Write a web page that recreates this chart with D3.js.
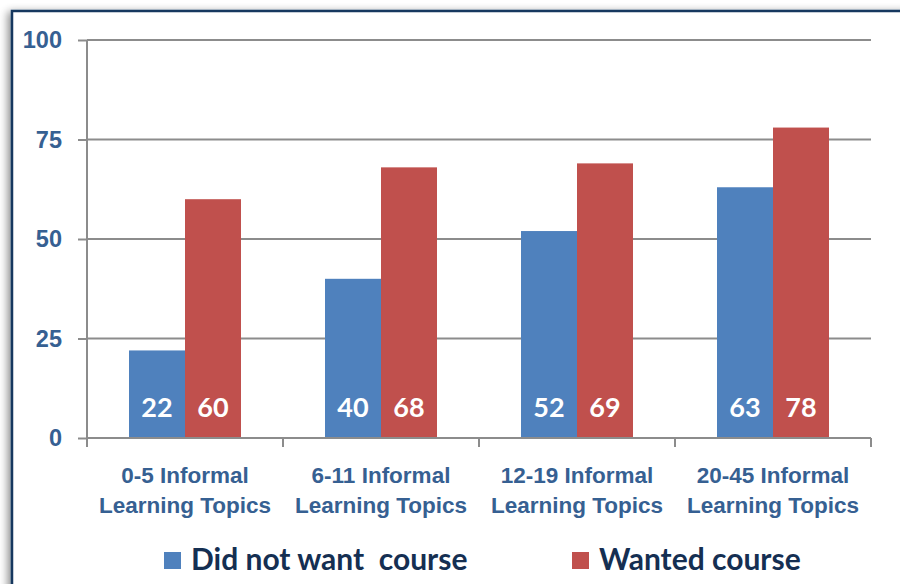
<!DOCTYPE html>
<html>
<head>
<meta charset="utf-8">
<script src="https://cdn.jsdelivr.net/npm/d3@7"></script>
<style>
	body { margin: 0; background: #fff; }
	svg { display: block; font-family: Lato, "Open Sans", sans-serif; }
	.y.axis text { fill: #366092; font-size: 23.5px; font-weight: bold; }
	.x.axis text { fill: #366092; font-size: 22.5px; font-weight: bold; }
	.value { fill: #fff; font-size: 27px; font-weight: bold; }
	.legend text { fill: #152F52; font-size: 30px; font-weight: bold; }
</style>
</head>
<body>
<div id="chart"></div>
<script>
// data
var categories = ["0-5 Informal Learning Topics", "6-11 Informal Learning Topics", "12-19 Informal Learning Topics", "20-45 Informal Learning Topics"];
var didNotWant = [22, 40, 52, 63];
var wanted = [60, 68, 69, 78];
var seriesNames = ["Did not want  course", "Wanted course"];
var yTicks = [0, 25, 50, 75, 100];

var colors = ["#4F81BD", "#C0504D"];

var W = 900, H = 584;
var margin = { top: 40, left: 87, right: 29, bottom: 146 };
var width = W - margin.left - margin.right;
var height = H - margin.top - margin.bottom;

var svg = d3.select("#chart").append("svg")
	.attr("width", W)
	.attr("height", H);

// frame with a soft shadow on the left
var defs = svg.append("defs");
var f = defs.append("filter").attr("id", "shadow").attr("x", "-10%").attr("y", "-10%").attr("width", "120%").attr("height", "120%");
f.append("feGaussianBlur").attr("in", "SourceAlpha").attr("stdDeviation", 4);
f.append("feOffset").attr("dx", -3).attr("dy", 2).attr("result", "b");
f.append("feComponentTransfer").append("feFuncA").attr("type", "linear").attr("slope", 0.45);
var fm = f.append("feMerge");
fm.append("feMergeNode");
fm.append("feMergeNode").attr("in", "SourceGraphic");

svg.append("rect")
	.attr("x", 12).attr("y", 11)
	.attr("width", W + 20).attr("height", H + 20)
	.attr("fill", "#fff")
	.attr("stroke", "#17375E")
	.attr("stroke-width", 2.5)
	.attr("filter", "url(#shadow)");

var g = svg.append("g")
	.attr("transform", "translate(" + margin.left + "," + margin.top + ")");

// scales
var x = d3.scaleBand()
	.domain(categories)
	.range([0, width]);

var x1 = d3.scaleBand()
	.domain([0, 1])
	.range([0, x.bandwidth()])
	.paddingOuter(0.75)
	.paddingInner(0);

var y = d3.scaleLinear()
	.domain([0, 100])
	.range([height, 0]);

// gridlines
g.append("g")
	.selectAll("line")
	.data(yTicks.filter(function(d) { return d > 0; }))
	.enter()
	.append("line")
	.attr("x1", 0).attr("x2", width)
	.attr("y1", function(d) { return y(d); })
	.attr("y2", function(d) { return y(d); })
	.attr("stroke", "#8c8c8c")
	.attr("stroke-width", 2);

// y axis
var yAxis = g.append("g")
	.attr("class", "y axis")
	.call(d3.axisLeft(y).tickValues(yTicks).tickSize(9).tickPadding(16));
yAxis.selectAll("line, path").attr("stroke", "#8c8c8c").attr("stroke-width", 2);
yAxis.select("path").attr("d", "M0," + height + "V0");

// bars
var rows = categories.map(function(c, i) {
	return { cat: c, vals: [didNotWant[i], wanted[i]] };
});

var groups = g.selectAll(".cat")
	.data(rows)
	.enter()
	.append("g")
	.attr("class", "cat")
	.attr("transform", function(d) { return "translate(" + x(d.cat) + ",0)"; });

var bars = groups.selectAll(".bar")
	.data(function(d) { return d.vals.map(function(v, k) { return { v: v, k: k }; }); })
	.enter()
	.append("g")
	.attr("class", "bar");

bars.append("rect")
	.attr("x", function(d) { return x1(d.k); })
	.attr("y", function(d) { return y(d.v); })
	.attr("width", x1.bandwidth())
	.attr("height", function(d) { return height - y(d.v); })
	.attr("fill", function(d) { return colors[d.k]; });

bars.append("text")
	.attr("class", "value")
	.attr("x", function(d) { return x1(d.k) + x1.bandwidth() / 2; })
	.attr("y", height - 21)
	.attr("text-anchor", "middle")
	.text(function(d) { return d.v; });

// x axis
var xAxis = g.append("g")
	.attr("class", "x axis")
	.attr("transform", "translate(0," + height + ")")
	.call(d3.axisBottom(x).tickSize(0).tickPadding(0));
xAxis.select("path").attr("stroke", "#8c8c8c").attr("stroke-width", 2)
	.attr("d", "M0,0H" + width);

// category separators
xAxis.selectAll(".sep")
	.data(d3.range(categories.length + 1))
	.enter()
	.append("line")
	.attr("class", "sep")
	.attr("x1", function(i) { return i * x.step(); })
	.attr("x2", function(i) { return i * x.step(); })
	.attr("y1", 0).attr("y2", 9)
	.attr("stroke", "#8c8c8c")
	.attr("stroke-width", 2);

// two-line category labels
xAxis.selectAll(".tick text").each(function(d) {
	var t = d3.select(this).text(null).attr("y", 0).attr("dy", null);
	var words = d.split(" ");
	t.append("tspan").attr("x", 0).attr("y", 45).text(words.slice(0, 2).join(" "));
	t.append("tspan").attr("x", 0).attr("y", 75).text(words.slice(2).join(" "));
});

// legend
var legendX = [164, 572];
var legend = svg.append("g").attr("class", "legend")
	.selectAll("g")
	.data(seriesNames)
	.enter()
	.append("g")
	.attr("transform", function(d, i) { return "translate(" + legendX[i] + ",552)"; });

legend.append("rect")
	.attr("width", 17).attr("height", 17)
	.attr("fill", function(d, i) { return colors[i]; });

legend.append("text")
	.attr("x", 27)
	.attr("y", 18)
	.attr("xml:space", "preserve")
	.style("white-space", "pre")
	.text(function(d) { return d; });
</script>
</body>
</html>
